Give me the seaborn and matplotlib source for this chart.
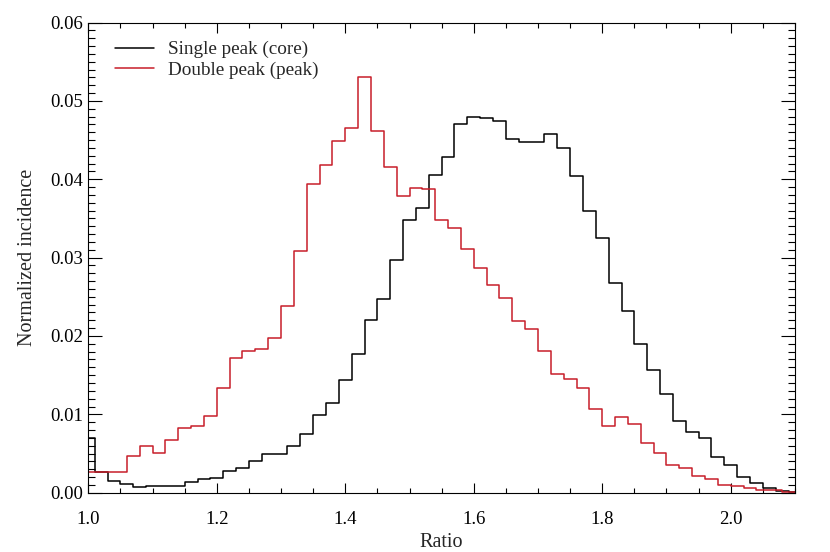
import numpy as np
import pandas as pd
import matplotlib
matplotlib.use("Agg")
import matplotlib.pyplot as plt
import seaborn as sns
from matplotlib.ticker import MultipleLocator, FormatStrFormatter

# bin centres and normalized counts
single_x = [1.00, 1.02, 1.04, 1.06, 1.08, 1.10, 1.12, 1.14, 1.16, 1.18,
            1.20, 1.22, 1.24, 1.26, 1.28, 1.30, 1.32, 1.34, 1.36, 1.38,
            1.40, 1.42, 1.44, 1.46, 1.48, 1.50, 1.52, 1.54, 1.56, 1.58,
            1.60, 1.62, 1.64, 1.66, 1.68, 1.70, 1.72, 1.74, 1.76, 1.78,
            1.80, 1.82, 1.84, 1.86, 1.88, 1.90, 1.92, 1.94, 1.96, 1.98,
            2.00, 2.02, 2.04, 2.06, 2.08, 2.10]
single_y = [0.0070, 0.0026, 0.0015, 0.0011, 0.0007, 0.0008, 0.0008, 0.0009, 0.0014, 0.0017,
            0.0019, 0.0028, 0.0032, 0.0041, 0.0050, 0.0049, 0.0059, 0.0075, 0.0099, 0.0115,
            0.0144, 0.0177, 0.0221, 0.0247, 0.0297, 0.0348, 0.0363, 0.0405, 0.0429, 0.0471,
            0.0480, 0.0478, 0.0474, 0.0451, 0.0447, 0.0448, 0.0458, 0.0440, 0.0404, 0.0360,
            0.0325, 0.0268, 0.0232, 0.0190, 0.0156, 0.0126, 0.0092, 0.0077, 0.0070, 0.0046,
            0.0036, 0.0020, 0.0012, 0.0006, 0.0002, 0.0001]

double_x = [0.99, 1.01, 1.03, 1.05, 1.07, 1.09, 1.11, 1.13, 1.15, 1.17,
            1.19, 1.21, 1.23, 1.25, 1.27, 1.29, 1.31, 1.33, 1.35, 1.37,
            1.39, 1.41, 1.43, 1.45, 1.47, 1.49, 1.51, 1.53, 1.55, 1.57,
            1.59, 1.61, 1.63, 1.65, 1.67, 1.69, 1.71, 1.73, 1.75, 1.77,
            1.79, 1.81, 1.83, 1.85, 1.87, 1.89, 1.91, 1.93, 1.95, 1.97,
            1.99, 2.01, 2.03, 2.05, 2.07, 2.09, 2.11]
double_y = [0.0028, 0.0026, 0.0026, 0.0026, 0.0047, 0.0060, 0.0051, 0.0067, 0.0083, 0.0085,
            0.0098, 0.0133, 0.0172, 0.0181, 0.0184, 0.0197, 0.0238, 0.0309, 0.0394, 0.0418,
            0.0449, 0.0466, 0.0531, 0.0461, 0.0415, 0.0379, 0.0389, 0.0388, 0.0348, 0.0338,
            0.0311, 0.0287, 0.0265, 0.0249, 0.0219, 0.0209, 0.0181, 0.0152, 0.0145, 0.0134,
            0.0107, 0.0085, 0.0097, 0.0088, 0.0063, 0.0051, 0.0035, 0.0032, 0.0021, 0.0018,
            0.0010, 0.0008, 0.0006, 0.0004, 0.0003, 0.0001, 0.0001]

labels = ["Single peak (core)", "Double peak (peak)"]
colors = ["black", "#c81e2a"]

sns.set_style("ticks")
plt.rcParams["font.family"] = ["Liberation Serif", "DejaVu Serif"]

fig = plt.figure(figsize=(8.3, 5.52), dpi=100)
ax = fig.add_axes([0.1064, 0.1074, 0.8514, 0.8518])

single_df = pd.DataFrame({"Ratio": single_x, "Incidence": single_y})
double_df = pd.DataFrame({"Ratio": double_x, "Incidence": double_y})

sns.lineplot(data=single_df, x="Ratio", y="Incidence", drawstyle="steps-mid",
             color=colors[0], lw=1.1, label=labels[0], ax=ax)
sns.lineplot(data=double_df, x="Ratio", y="Incidence", drawstyle="steps-mid",
             color=colors[1], lw=1.1, label=labels[1], ax=ax)

ax.set_xlim(1.0, 2.1)
ax.set_ylim(0, 0.06)
ax.xaxis.set_major_locator(MultipleLocator(0.2))
ax.xaxis.set_minor_locator(MultipleLocator(0.05))
ax.yaxis.set_major_locator(MultipleLocator(0.01))
ax.yaxis.set_minor_locator(MultipleLocator(0.001))
ax.xaxis.set_major_formatter(FormatStrFormatter("%.1f"))
ax.yaxis.set_major_formatter(FormatStrFormatter("%.2f"))

ax.tick_params(which="both", direction="in", top=True, right=True, width=0.8, colors="black")
ax.tick_params(axis="x", which="major", length=7.2, pad=13, labelsize=13.5)
ax.tick_params(axis="x", which="minor", length=3.6)
ax.tick_params(axis="y", which="major", length=10, pad=4, labelsize=13.5)
ax.tick_params(axis="y", which="minor", length=4.8)
for side in ax.spines.values():
    side.set_linewidth(0.8)
    side.set_color("black")

ax.set_xlabel("Ratio", fontsize=14.5)
ax.set_ylabel("Normalized incidence", fontsize=14.5)
ax.xaxis.set_label_coords(0.5, -0.085)
ax.yaxis.set_label_coords(-0.073, 0.5)

ax.legend(loc="upper left", frameon=False, fontsize=13.75, handlelength=2.05,
          handletextpad=0.73, labelspacing=0.15, borderaxespad=0.56,
          bbox_to_anchor=(0.012, 1.0))
ax.grid(False)

fig.savefig("out.png", dpi=100)
